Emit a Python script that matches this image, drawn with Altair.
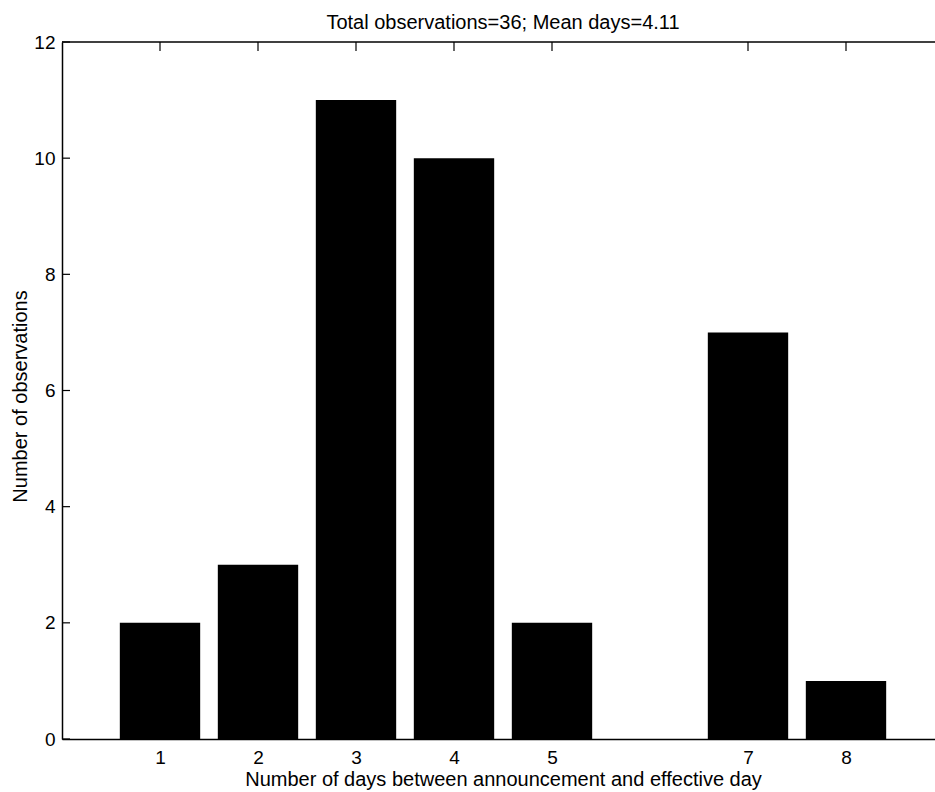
import altair as alt
import pandas as pd

# Number of days between announcement and effective day, and how often each occurred
days = [1, 2, 3, 4, 5, 7, 8]
counts = [2, 3, 11, 10, 2, 7, 1]

y_tick_values = [0, 2, 4, 6, 8, 10, 12]
x_tick_values = [1, 2, 3, 4, 5, 7, 8]

total = sum(counts)
mean_days = sum(d * c for d, c in zip(days, counts)) / total
title_text = f"Total observations={total}; Mean days={mean_days:.2f}"

FONT = "Liberation Sans"
W, H = 873, 697
PX_PER_DAY = 98
X_MAX = W / PX_PER_DAY  # axis runs from 0 past the last bar
BAR_WIDTH = 0.82

df = pd.DataFrame({"day": days, "count": counts})

x_scale = alt.Scale(domain=[0, X_MAX], nice=False, zero=False)
y_scale = alt.Scale(domain=[0, 12], nice=False)

bars = (
    alt.Chart(df)
    .transform_calculate(
        left=f"datum.day - {BAR_WIDTH / 2}",
        right=f"datum.day + {BAR_WIDTH / 2}",
    )
    .mark_rect(color="black")
    .encode(
        x=alt.X(
            "left:Q",
            scale=x_scale,
            axis=alt.Axis(
                values=x_tick_values,
                title="Number of days between announcement and effective day",
                titleX=441,
                titleY=46.5,
                titleAlign="center",
                titleBaseline="alphabetic",
                labelPadding=9,
            ),
        ),
        x2="right:Q",
        y=alt.Y(
            "count:Q",
            scale=y_scale,
            axis=alt.Axis(
                values=y_tick_values,
                title="Number of observations",
                titleX=-36,
                titleY=354,
                titleAlign="center",
                titleBaseline="alphabetic",
                titleAngle=-90,
                labelPadding=7,
            ),
        ),
        y2=alt.datum(0),
    )
)

# Inward-pointing ticks along the left edge
y_ticks = (
    alt.Chart(pd.DataFrame({"v": y_tick_values}))
    .mark_rule(color="black", strokeWidth=1.2)
    .encode(
        y=alt.Y("v:Q", scale=y_scale, axis=None),
        x=alt.value(0),
        x2=alt.value(8),
    )
)

# Inward-pointing ticks along the top edge
top_ticks = (
    alt.Chart(pd.DataFrame({"d": x_tick_values}))
    .mark_rule(color="black", strokeWidth=1.2)
    .encode(
        x=alt.X("d:Q", scale=x_scale, axis=None),
        y=alt.value(0),
        y2=alt.value(9),
    )
)

# Top border of the axes box
top_border = (
    alt.Chart(pd.DataFrame({"a": [0]}))
    .mark_rule(color="black", strokeWidth=1.5)
    .encode(x=alt.value(0), x2=alt.value(W), y=alt.value(0))
)

chart = (
    alt.layer(bars, y_ticks, top_ticks, top_border)
    .resolve_axis(x="independent", y="independent")
    .properties(
        width=W,
        height=H,
        title=alt.TitleParams(
            title_text,
            font=FONT,
            fontSize=20,
            fontWeight="normal",
            color="black",
            anchor="middle",
            frame="group",
            dx=4.5,
            dy=21,
            baseline="alphabetic",
            offset=5,
        ),
        autosize=alt.AutoSizeParams(type="none"),
        padding={"left": 62, "top": 42, "right": 0, "bottom": 53},
        background="white",
    )
    .configure_view(stroke=None)
    .configure_axis(
        grid=False,
        ticks=False,
        tickSize=0,
        domainColor="black",
        domainWidth=1.5,
        labelFont=FONT,
        labelFontSize=19,
        labelColor="black",
        titleFont=FONT,
        titleFontSize=20,
        titleFontWeight="normal",
        titleColor="black",
    )
)

chart.save("out.html", embed_options={"renderer": "svg", "actions": False})
